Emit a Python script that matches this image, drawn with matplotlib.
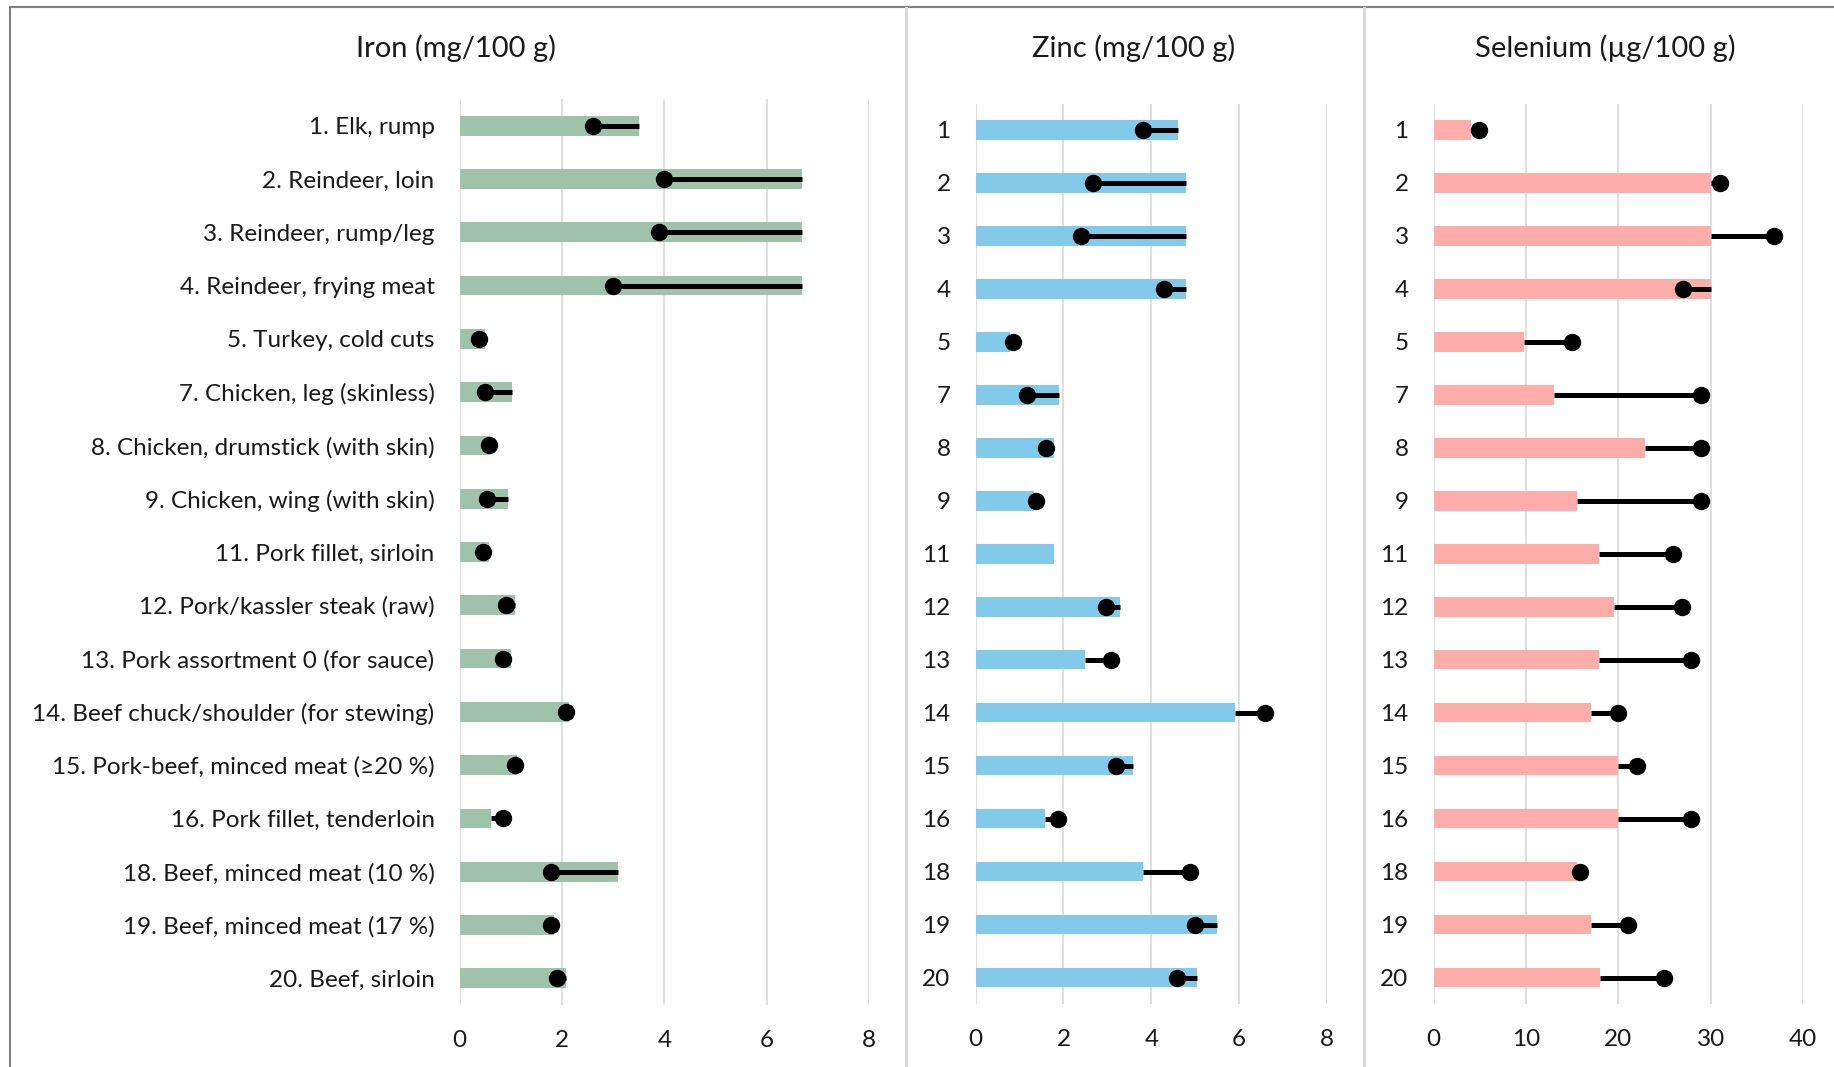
import numpy as np
import matplotlib
matplotlib.use("Agg")
import matplotlib.pyplot as plt
from matplotlib.lines import Line2D

plt.rcParams['font.family'] = ['Lato', 'DejaVu Sans']

# meat cuts, numbered as in the sample list
item_ids = [1, 2, 3, 4, 5, 7, 8, 9, 11, 12, 13, 14, 15, 16, 18, 19, 20]
item_names = ["Elk, rump", "Reindeer, loin", "Reindeer, rump/leg", "Reindeer, frying meat",
              "Turkey, cold cuts", "Chicken, leg (skinless)", "Chicken, drumstick (with skin)",
              "Chicken, wing (with skin)", "Pork fillet, sirloin", "Pork/kassler steak (raw)",
              "Pork assortment 0 (for sauce)", "Beef chuck/shoulder (for stewing)",
              "Pork-beef, minced meat (\u226520 %)", "Pork fillet, tenderloin",
              "Beef, minced meat (10 %)", "Beef, minced meat (17 %)", "Beef, sirloin"]

# bar = table value, dot = analysed value
iron_bar = [3.5, 6.7, 6.7, 6.7, 0.5, 1.03, 0.6, 0.94, 0.58, 1.09, 1.0, 2.14, 1.13, 0.61, 3.1, 1.85, 2.07]
iron_dot = [2.6, 4.0, 3.9, 3.0, 0.38, 0.5, 0.57, 0.53, 0.45, 0.91, 0.85, 2.08, 1.08, 0.85, 1.79, 1.79, 1.9]
zinc_bar = [4.6, 4.8, 4.8, 4.8, 0.79, 1.9, 1.79, 1.34, 1.79, 3.28, 2.49, 5.9, 3.59, 1.59, 3.8, 5.5, 5.04]
zinc_dot = [3.8, 2.68, 2.39, 4.28, 0.85, 1.18, 1.6, 1.38, np.nan, 2.98, 3.09, 6.59, 3.19, 1.88, 4.89, 4.99, 4.58]
selenium_bar = [4.0, 30, 30, 30, 9.8, 13, 22.9, 15.5, 17.9, 19.5, 17.9, 17, 20, 20, 15.5, 17, 18]
selenium_dot = [4.9, 31, 36.9, 27, 15, 29, 29, 29, 25.9, 26.9, 27.9, 20, 22, 27.9, 15.9, 21, 25]

iron_labels = [f"{i}. {n}" for i, n in zip(item_ids, item_names)]
num_labels = [str(i) for i in item_ids]

W, H = 1834, 1067
fig = plt.figure(figsize=(W / 100, H / 100), dpi=100)

# left, right, top, bottom (pixels) of each plot area
panels = [
    (459.6, 869.0, 99, 1005, iron_bar, iron_dot, iron_labels, "#9fc2ab", [0, 2, 4, 6, 8], 456,
     "Iron (mg/100 g)"),
    (975.6, 1327.0, 103.5, 1004, zinc_bar, zinc_dot, num_labels, "#82caea", [0, 2, 4, 6, 8], 1134,
     "Zinc (mg/100 g)"),
    (1433.6, 1803.0, 103.5, 1004, selenium_bar, selenium_dot, num_labels, "#ffadaa", [0, 10, 20, 30, 40], 1605,
     "Selenium (\u00b5g/100 g)"),
]

y = np.arange(len(item_ids))
for left, right, top_px, bot_px, bars, dots, labels, color, ticks, title_x, title in panels:
    ax = fig.add_axes([left / W, 1 - bot_px / H, (right - left) / W, (bot_px - top_px) / H])
    ax.barh(y, bars, height=0.37, color=color, zorder=2)
    bars = np.array(bars)
    dots = np.array(dots)
    ok = ~np.isnan(dots)
    ax.hlines(y[ok], np.minimum(bars[ok], dots[ok]), np.maximum(bars[ok], dots[ok]),
              color="black", lw=3.6, zorder=3)
    ax.plot(dots, y, "o", color="black", ms=11.5, zorder=4)
    ax.set_xlim(ticks[0], ticks[-1])
    ax.set_ylim(len(item_ids) - 0.5, -0.5)
    ax.set_xticks(ticks)
    ax.set_yticks(y)
    ax.set_yticklabels(labels)
    ax.tick_params(axis="y", length=0, pad=18, labelsize=17.5, labelcolor="#1a1a1a")
    ax.tick_params(axis="x", length=0, pad=18, labelsize=17.5, labelcolor="#1a1a1a")
    ax.grid(axis="x", color="#d9d9d9", lw=1.2, zorder=0)
    ax.set_axisbelow(True)
    for s in ax.spines.values():
        s.set_visible(False)
    fig.text(title_x / W, 1 - 48 / H, title, ha="center", va="center", fontsize=21, color="#1a1a1a")

# frame and panel separators
fig.add_artist(Line2D([9.5 / W, 1], [1 - 6.5 / H, 1 - 6.5 / H], color="#808080", lw=1.5))
fig.add_artist(Line2D([9.5 / W, 9.5 / W], [0, 1 - 6.5 / H], color="#808080", lw=1.5))
for sx in [906, 1364]:
    fig.add_artist(Line2D([sx / W, sx / W], [0, 1 - 7.5 / H], color="#d9d9d9", lw=2.2))

fig.savefig("out.png", dpi=100)
